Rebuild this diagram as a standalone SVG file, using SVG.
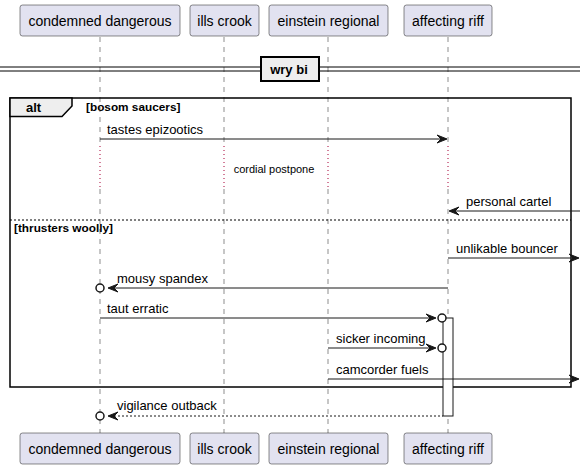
<svg xmlns="http://www.w3.org/2000/svg" width="586" height="470" viewBox="0 0 586 470">
<style>
.p{fill:#E2E2F0;stroke:#181818;stroke-width:0.5}
.pt{font-family:"Liberation Sans",Arial,sans-serif;font-size:14px;fill:#000}
.life{stroke:#181818;stroke-width:0.5;stroke-dasharray:5,5}
.delay{stroke:#A80036;stroke-width:1;stroke-dasharray:1,3}
.m{stroke:#181818;stroke-width:1;fill:none}
.md{stroke:#181818;stroke-width:1;fill:none;stroke-dasharray:2,2}
.ah{fill:#181818;stroke:#181818;stroke-width:1}
.circ{fill:#fff;stroke:#181818;stroke-width:1.5}
.mt{font-family:"Liberation Sans",Arial,sans-serif;font-size:13px;fill:#000}
.st{font-family:"Liberation Sans",Arial,sans-serif;font-size:11px;fill:#000}
.bt{font-family:"Liberation Sans",Arial,sans-serif;font-size:11.8px;font-weight:bold;fill:#000}
.bt13{font-family:"Liberation Sans",Arial,sans-serif;font-size:13px;font-weight:bold;fill:#000}
</style>
<rect width="586" height="470" fill="#fff"/>
<g id="lifelines">
<line class="life" x1="100" y1="37" x2="100" y2="146"/>
<line class="life" x1="100" y1="189" x2="100" y2="433"/>
<line class="life" x1="224" y1="37" x2="224" y2="146"/>
<line class="life" x1="224" y1="189" x2="224" y2="433"/>
<line class="life" x1="328" y1="37" x2="328" y2="146"/>
<line class="life" x1="328" y1="189" x2="328" y2="433"/>
<line class="life" x1="448" y1="37" x2="448" y2="146"/>
<line class="life" x1="448" y1="189" x2="448" y2="433"/>
<line class="delay" x1="100" y1="146" x2="100" y2="189"/>
<line class="delay" x1="224" y1="146" x2="224" y2="189"/>
<line class="delay" x1="328" y1="146" x2="328" y2="189"/>
<line class="delay" x1="448" y1="146" x2="448" y2="189"/>
<text class="st" x="274" y="173" text-anchor="middle">cordial postpone</text>
</g>
<g id="divider">
<line x1="0" y1="67" x2="580" y2="67" stroke="#000" stroke-width="1"/>
<line x1="0" y1="71" x2="580" y2="71" stroke="#000" stroke-width="1"/>
<rect x="261" y="57" width="58" height="24" fill="#EEEEEE" stroke="#000" stroke-width="2"/>
<text class="bt13" x="289" y="74" text-anchor="middle">wry bi</text>
</g>
<g id="alt-frame">
<rect x="10" y="98" width="561" height="289" fill="none" stroke="#000" stroke-width="1.5"/>
<path d="M10,98 L72,98 L72,106 L62,116.5 L10,116.5 Z" fill="#EEEEEE" stroke="#000" stroke-width="1.5"/>
<text class="bt13" x="26" y="112">alt</text>
<text class="bt" x="86" y="111">[bosom saucers]</text>
<line x1="10" y1="220" x2="571" y2="220" stroke="#000" stroke-width="1" stroke-dasharray="2,2"/>
<text class="bt" x="14" y="232">[thrusters woolly]</text>
</g>
<g id="activation">
<rect x="443" y="318" width="10" height="98" fill="#fff" stroke="#181818" stroke-width="1"/>
</g>
<g id="connectors">
<line class="m" x1="100" y1="139" x2="446" y2="139"/>
<polygon class="ah" points="447,139 437,135 441,139 437,143"/>
<text class="mt" x="107" y="134">tastes epizootics</text>

<line class="m" x1="450" y1="211" x2="580" y2="211"/>
<polygon class="ah" points="449,211 459,207 455,211 459,215"/>
<text class="mt" x="466" y="206">personal cartel</text>

<line class="m" x1="448" y1="258" x2="578" y2="258"/>
<polygon class="ah" points="579,258 569,254 573,258 569,262"/>
<text class="mt" x="456" y="253">unlikable bouncer</text>

<line class="m" x1="110" y1="288" x2="448" y2="288"/>
<polygon class="ah" points="108,288 118,284 114,288 118,292"/>
<circle class="circ" cx="100" cy="288" r="4"/>
<text class="mt" x="117" y="283">mousy spandex</text>

<line class="m" x1="100" y1="318" x2="435" y2="318"/>
<polygon class="ah" points="436,318 426,314 430,318 426,322"/>
<circle class="circ" cx="442" cy="318" r="4"/>
<text class="mt" x="107" y="313">taut erratic</text>

<line class="m" x1="328" y1="348" x2="435" y2="348"/>
<polygon class="ah" points="436,348 426,344 430,348 426,352"/>
<circle class="circ" cx="442" cy="348" r="4"/>
<text class="mt" x="336" y="343">sicker incoming</text>

<line class="m" x1="328" y1="379" x2="578" y2="379"/>
<polygon class="ah" points="579,379 569,375 573,379 569,383"/>
<text class="mt" x="336" y="374">camcorder fuels</text>

<line class="md" x1="110" y1="416" x2="443" y2="416"/>
<polygon class="ah" points="108,416 118,412 114,416 118,420"/>
<circle class="circ" cx="100" cy="416" r="4"/>
<text class="mt" x="117" y="410">vigilance outback</text>
</g>
<g id="condemned-dangerous">
<rect class="p" x="20" y="5" width="160" height="31" rx="2.5"/>
<text class="pt" x="100" y="26" text-anchor="middle">condemned dangerous</text>
<rect class="p" x="20" y="433" width="160" height="31" rx="2.5"/>
<text class="pt" x="100" y="454" text-anchor="middle">condemned dangerous</text>
</g>
<g id="ills-crook">
<rect class="p" x="190" y="5" width="69" height="31" rx="2.5"/>
<text class="pt" x="224.5" y="26" text-anchor="middle">ills crook</text>
<rect class="p" x="190" y="433" width="69" height="31" rx="2.5"/>
<text class="pt" x="224.5" y="454" text-anchor="middle">ills crook</text>
</g>
<g id="einstein-regional">
<rect class="p" x="269" y="5" width="119" height="31" rx="2.5"/>
<text class="pt" x="328.5" y="26" text-anchor="middle">einstein regional</text>
<rect class="p" x="269" y="433" width="119" height="31" rx="2.5"/>
<text class="pt" x="328.5" y="454" text-anchor="middle">einstein regional</text>
</g>
<g id="affecting-riff">
<rect class="p" x="404" y="5" width="88" height="31" rx="2.5"/>
<text class="pt" x="448" y="26" text-anchor="middle">affecting riff</text>
<rect class="p" x="404" y="433" width="88" height="31" rx="2.5"/>
<text class="pt" x="448" y="454" text-anchor="middle">affecting riff</text>
</g>
</svg>
